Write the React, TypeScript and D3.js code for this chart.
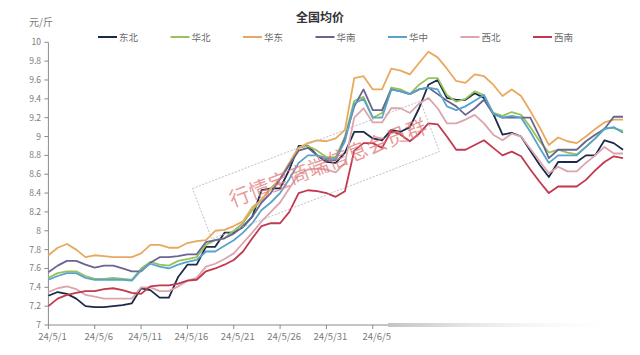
import React from "react";
import * as d3 from "d3";

const seriesNames = ["东北", "华北", "华东", "华南", "华中", "西北", "西南"];
const seriesColors = ["#1b2a4a", "#98c25a", "#e8a95e", "#6a6490", "#57a3cb", "#dca4ad", "#c2384f"];

const dongbei = [7.31,7.35,7.33,7.28,7.20,7.19,7.19,7.20,7.21,7.23,7.39,7.37,7.29,7.29,7.51,7.64,7.64,7.83,7.83,7.98,7.98,8.04,8.15,8.43,8.45,8.45,8.65,8.90,8.90,8.80,8.73,8.72,8.83,9.05,9.05,8.98,8.96,9.07,9.05,9.10,9.30,9.55,9.60,9.41,9.39,9.39,9.46,9.41,9.24,9.02,9.04,9.00,8.85,8.70,8.57,8.73,8.73,8.73,8.80,8.80,8.96,8.93,8.86];
const huabei = [7.50,7.55,7.57,7.57,7.52,7.49,7.49,7.50,7.49,7.48,7.60,7.67,7.64,7.63,7.68,7.70,7.72,7.85,7.90,7.92,8.00,8.08,8.22,8.33,8.45,8.55,8.72,8.88,8.90,8.85,8.78,8.78,9.00,9.38,9.42,9.20,9.25,9.52,9.50,9.45,9.55,9.62,9.62,9.44,9.37,9.40,9.48,9.44,9.25,9.22,9.26,9.23,9.10,8.95,8.83,8.86,8.83,8.81,8.89,8.98,9.09,9.09,9.06];
const huadong = [7.74,7.82,7.86,7.80,7.72,7.74,7.73,7.72,7.72,7.72,7.76,7.85,7.85,7.82,7.82,7.87,7.89,7.90,8.00,8.01,8.05,8.10,8.25,8.33,8.45,8.55,8.72,8.88,8.93,8.96,8.95,8.98,9.07,9.62,9.64,9.50,9.50,9.72,9.70,9.66,9.78,9.90,9.84,9.72,9.59,9.57,9.66,9.64,9.55,9.43,9.50,9.43,9.27,9.10,8.91,8.99,8.95,8.93,9.00,9.08,9.15,9.18,9.18];
const huanan = [7.56,7.63,7.68,7.68,7.64,7.61,7.63,7.63,7.60,7.57,7.57,7.66,7.72,7.72,7.73,7.75,7.75,7.88,7.90,7.92,7.97,8.05,8.15,8.30,8.40,8.55,8.70,8.85,8.88,8.80,8.75,8.75,8.98,9.32,9.50,9.28,9.28,9.50,9.48,9.45,9.50,9.52,9.45,9.38,9.32,9.23,9.30,9.39,9.24,9.20,9.20,9.20,9.20,9.00,8.77,8.86,8.86,8.86,8.95,9.02,9.08,9.21,9.21];
const huazhong = [7.48,7.52,7.55,7.55,7.50,7.48,7.48,7.48,7.48,7.47,7.58,7.65,7.62,7.60,7.64,7.67,7.69,7.78,7.78,7.84,7.90,7.98,8.08,8.22,8.30,8.40,8.55,8.72,8.80,8.80,8.77,8.76,8.95,9.35,9.40,9.20,9.20,9.50,9.48,9.45,9.50,9.52,9.50,9.32,9.28,9.32,9.38,9.44,9.24,9.20,9.22,9.20,9.05,8.88,8.72,8.80,8.80,8.80,8.89,8.98,9.08,9.10,9.04];
const xibei = [7.35,7.39,7.41,7.38,7.32,7.30,7.28,7.28,7.28,7.28,7.40,7.40,7.36,7.36,7.41,7.47,7.50,7.62,7.65,7.70,7.76,7.87,7.98,8.10,8.20,8.30,8.45,8.60,8.65,8.66,8.65,8.62,8.72,9.20,9.30,9.15,9.15,9.30,9.30,9.25,9.35,9.41,9.30,9.14,9.14,9.18,9.23,9.14,9.02,8.96,9.03,9.00,8.87,8.74,8.61,8.68,8.63,8.63,8.72,8.80,8.89,8.82,8.82];
const xinan = [7.20,7.28,7.32,7.34,7.36,7.36,7.38,7.39,7.37,7.34,7.33,7.41,7.42,7.42,7.44,7.47,7.48,7.57,7.60,7.64,7.69,7.78,7.92,8.05,8.08,8.08,8.20,8.40,8.43,8.42,8.40,8.36,8.42,8.85,8.93,8.93,8.88,9.06,9.02,8.95,9.03,9.14,9.13,9.00,8.86,8.86,8.91,8.96,8.88,8.80,8.84,8.79,8.65,8.52,8.40,8.47,8.47,8.47,8.54,8.64,8.73,8.79,8.77];

const allSeries = [dongbei, huabei, huadong, huanan, huazhong, xibei, xinan];

const xTickLabels = ["24/5/1", "24/5/6", "24/5/11", "24/5/16", "24/5/21", "24/5/26", "24/5/31", "24/6/5"];
const xTickIndex = [0, 5, 10, 15, 20, 25, 30, 35];
const yTickValues = [7, 7.2, 7.4, 7.6, 7.8, 8, 8.2, 8.4, 8.6, 8.8, 9, 9.2, 9.4, 9.6, 9.8, 10];
const yTickLabels = ["7", "7.2", "7.4", "7.6", "7.8", "8", "8.2", "8.4", "8.6", "8.8", "9", "9.2", "9.4", "9.6", "9.8", "10"];

const title = "全国均价";
const unit = "元/斤";
const watermark = "行情宝商端信息会员群";

const FONT = "'Noto Sans CJK SC', 'Noto Sans', sans-serif";

export default function App() {
  const n = dongbei.length;
  const x = d3.scaleLinear().domain([0, n - 1]).range([48.4, 623]);
  const y = d3.scaleLinear().domain([7, 10]).range([325, 42.3]);
  const line = d3
    .line<number>()
    .x((_, i) => x(i))
    .y((v) => y(v));

  const axisColor = "#8a8a8a";
  const labelColor = "#7a7a7a";

  return (
    <svg
      width={640}
      height={355}
      style={{ position: "absolute", left: 0, top: 0, background: "#fff" }}
      fontFamily={FONT}
    >
      <defs>
        <linearGradient id="fade" x1="0" x2="1" y1="0" y2="0">
          <stop offset="0" stopColor="#c4c4c4" stopOpacity="1" />
          <stop offset="0.35" stopColor="#e4e4e4" stopOpacity="0.9" />
          <stop offset="1" stopColor="#ffffff" stopOpacity="0" />
        </linearGradient>
      </defs>
      <rect x={0} y={0} width={640} height={355} fill="#fff" />
      <text x={320} y={22} textAnchor="middle" fontSize={12} fontWeight="bold" fill="#333">
        {title}
      </text>
      <text x={29} y={26} fontSize={10} fill={labelColor}>
        {unit}
      </text>

      {seriesNames.map((name, i) => {
        const lx = 98 + i * 72.5;
        return (
          <g key={name}>
            <line x1={lx} x2={lx + 19} y1={37} y2={37} stroke={seriesColors[i]} strokeWidth={2} />
            <text x={lx + 21} y={40.5} fontSize={9.5} fill="#6a6a6a">
              {name}
            </text>
          </g>
        );
      })}

      {/* y axis */}
      <line x1={48.4} x2={48.4} y1={y(10)} y2={y(7)} stroke={axisColor} strokeWidth={1} />
      {yTickValues.map((v, i) => (
        <g key={v}>
          <line x1={44.4} x2={48.4} y1={y(v)} y2={y(v)} stroke={axisColor} strokeWidth={1} />
          <text x={41} y={y(v) + 3} textAnchor="end" fontSize={8.5} fill={labelColor}>
            {yTickLabels[i]}
          </text>
        </g>
      ))}

      {/* x axis */}
      <line x1={48.4} x2={390} y1={y(7)} y2={y(7)} stroke={axisColor} strokeWidth={1} />
      <rect x={388} y={y(7) - 2} width={240} height={4} fill="url(#fade)" />
      {xTickIndex.map((d, i) => (
        <g key={d}>
          <line x1={x(d)} x2={x(d)} y1={y(7)} y2={y(7) + 4} stroke={axisColor} strokeWidth={1} />
          <text x={x(d) + 4} y={340} textAnchor="middle" fontSize={9.5} fill={labelColor}>
            {xTickLabels[i]}
          </text>
        </g>
      ))}

      {allSeries.map((s, i) => (
        <path
          key={seriesNames[i]}
          d={line(s) || ""}
          fill="none"
          stroke={seriesColors[i]}
          strokeWidth={1.8}
          strokeLinejoin="round"
        />
      ))}

      <g transform="translate(316,170) rotate(-21)">
        <rect x={-122} y={-27} width={244} height={54} fill="none" stroke="#b8b8b8" strokeWidth={0.8} strokeDasharray="2,1.5" />
        <text x={14} y={5} textAnchor="middle" fontSize={20.5} fill="#e07878" fillOpacity={0.75} letterSpacing={0.5}>
          {watermark}
        </text>
      </g>
    </svg>
  );
}
